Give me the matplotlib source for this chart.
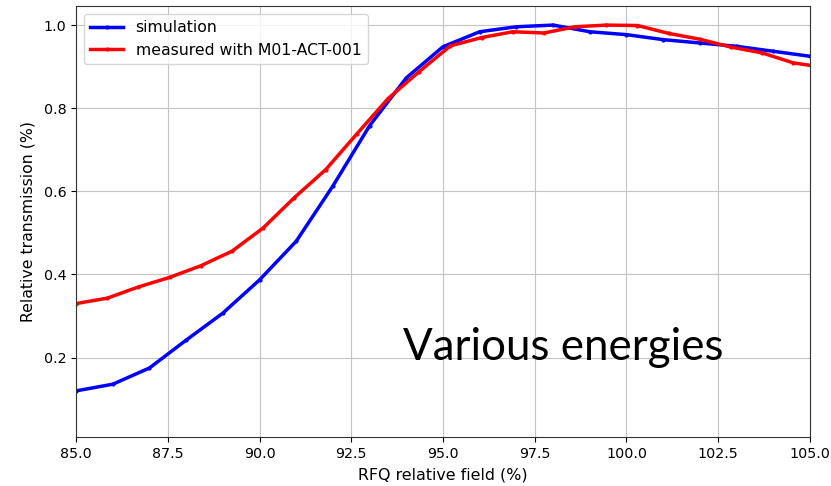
import numpy as np
import matplotlib
matplotlib.use("Agg")
import matplotlib.pyplot as plt

# simulation, one point per percent of RFQ field
sim_field = [85, 86, 87, 88, 89, 90, 91, 92, 93, 94, 95, 96, 97, 98, 99,
             100, 101, 102, 103, 104, 105]
sim_trans = [0.120, 0.136, 0.175, 0.242, 0.307, 0.387, 0.480, 0.613, 0.758,
             0.873, 0.948, 0.984, 0.996, 1.000, 0.984, 0.977, 0.965, 0.957,
             0.949, 0.937, 0.925]

# measurement with M01-ACT-001
meas_field = [85.0, 85.85, 86.7, 87.55, 88.4, 89.25, 90.1, 90.95, 91.8, 92.65,
              93.5, 94.35, 95.2, 96.05, 96.9, 97.75, 98.6, 99.45, 100.3,
              101.15, 102.0, 102.85, 103.7, 104.55, 105.4]
meas_trans = [0.330, 0.343, 0.370, 0.393, 0.421, 0.456, 0.512, 0.585, 0.652,
              0.738, 0.823, 0.888, 0.950, 0.970, 0.984, 0.981, 0.996, 1.000,
              0.999, 0.980, 0.966, 0.947, 0.933, 0.909, 0.898]

fig = plt.figure(figsize=(8.31, 4.86), dpi=100)
ax = fig.add_axes([0.0915, 0.1008, 0.8832, 0.8869])

ax.plot(sim_field, sim_trans, color='blue', lw=2.5, marker='.', ms=4,
        label='simulation')
ax.plot(meas_field, meas_trans, color='red', lw=2.5, marker='.', ms=4,
        label='measured with M01-ACT-001')

ax.set_xlim(85, 105)
ax.set_ylim(0.009, 1.046)
ax.set_xticks(np.arange(85, 105.1, 2.5))
ax.set_yticks([0.2, 0.4, 0.6, 0.8, 1.0])
ax.tick_params(labelsize=10.3)
ax.grid(True, color='#c4c4c4')
for s in ax.spines.values():
    s.set_color('#333333')
ax.set_xlabel('RFQ relative field (%)', fontsize=11.4, labelpad=5)
ax.set_ylabel('Relative transmission (%)', fontsize=11.3, labelpad=6)
ax.legend(loc='upper left', fontsize=11.3, handlelength=2.1)

ax.text(0.4455, 0.1787, 'Various energies', transform=ax.transAxes,
        fontsize=31.6, family='Lato', va='baseline', ha='left')

fig.savefig('out.png', dpi=100)
